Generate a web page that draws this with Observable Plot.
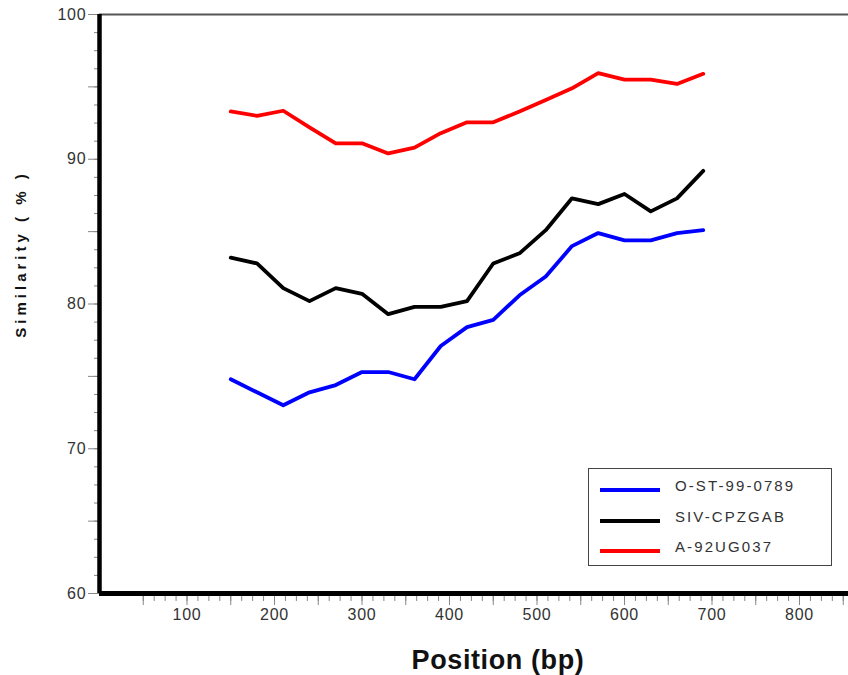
<!DOCTYPE html>
<html>
<head>
<meta charset="utf-8">
<script src="https://cdn.jsdelivr.net/npm/d3@7"></script>
<script src="https://cdn.jsdelivr.net/npm/@observablehq/plot@0.6"></script>
<style>
  html, body { margin: 0; padding: 0; background: #fff; }
  #wrap { position: relative; width: 848px; height: 675px; font-family: "Liberation Sans", Arial, sans-serif; }
  #wrap svg text { font-family: "Liberation Sans", Arial, sans-serif; }
  .ticklab text { letter-spacing: 0.8px; }
  .ytitle text { letter-spacing: 4px; }
  .xtitle text { letter-spacing: 0.6px; }
  #legend { position: absolute; left: 588px; top: 468px; width: 244px; height: 98px; border: 1.5px solid #444; box-sizing: border-box; background: #fff; }
  .item { position: absolute; left: 0; height: 20px; width: 240px; }
  .swatch { position: absolute; left: 11px; width: 60px; height: 4px; }
  .lab { position: absolute; left: 86px; font-size: 15px; color: #333; letter-spacing: 2.1px; white-space: nowrap; }
</style>
</head>
<body>
<div id="wrap"></div>
<script>
// ---- data ----
const positions = [150, 180, 210, 240, 270, 300, 330, 360, 390, 420, 450, 480, 510, 540, 570, 600, 630, 660, 690];
const seriesNames = ["O-ST-99-0789", "SIV-CPZGAB", "A-92UG037"];
const seriesColors = ["#0000ff", "#000000", "#ff0000"];
const ost990789 = [74.8, 73.9, 73.0, 73.9, 74.4, 75.3, 75.3, 74.8, 77.1, 78.4, 78.9, 80.6, 81.9, 84.0, 84.9, 84.4, 84.4, 84.9, 85.1];
const sivCpzgab = [83.2, 82.8, 81.1, 80.2, 81.1, 80.7, 79.3, 79.8, 79.8, 80.2, 82.8, 83.5, 85.1, 87.3, 86.9, 87.6, 86.4, 87.3, 89.2];
const a92ug037 = [93.3, 93.0, 93.35, 92.2, 91.1, 91.1, 90.4, 90.8, 91.8, 92.55, 92.55, 93.3, 94.1, 94.9, 95.95, 95.5, 95.5, 95.2, 95.9];
const seriesValues = [ost990789, sivCpzgab, a92ug037];
const xTickLabels = [100, 200, 300, 400, 500, 600, 700, 800];
const xMidTicks = [50, 150, 250, 350, 450, 550, 650, 750, 850];
const yTickLabels = [60, 70, 80, 90, 100];
const yMidTicks = [65, 75, 85, 95];
const xTitle = "Position (bp)";
const yTitle = "Similarity ( % )";

const xMinorTicks = d3.range(50, 856, 12.5);
const yMinorTicks = d3.range(60, 100.01, 1.25);

const lineMarks = seriesValues.map((vals, k) =>
  Plot.line(positions.map((p, i) => ({pos: p, sim: vals[i]})), {
    x: "pos", y: "sim", stroke: seriesColors[k], strokeWidth: 3.8
  })
);

const chart = Plot.plot({
  width: 848,
  height: 675,
  marginLeft: 99,
  marginRight: 0,
  marginTop: 14,
  marginBottom: 82,
  style: {background: "#fff", overflow: "visible"},
  x: {domain: [0, 856]},
  y: {domain: [60, 100]},
  marks: [
    Plot.axisX(xMinorTicks, {anchor: "bottom", tickSize: 8, stroke: "#888", tickFormat: () => "", label: null}),
    Plot.axisX(xMidTicks, {anchor: "bottom", tickSize: 12, stroke: "#888", tickFormat: () => "", label: null}),
    Plot.axisX(xTickLabels, {anchor: "bottom", tickSize: 12, tickPadding: 3, stroke: "#888", fill: "#333", fontSize: 16, tickFormat: d => String(d), label: null, className: "ticklab"}),
    Plot.axisY(yMinorTicks, {anchor: "left", tickSize: 5, stroke: "#888", tickFormat: () => "", label: null}),
    Plot.axisY(yMidTicks, {anchor: "left", tickSize: 11, stroke: "#888", tickFormat: () => "", label: null}),
    Plot.axisY(yTickLabels, {anchor: "left", tickSize: 11, tickPadding: 2, stroke: "#888", fill: "#333", fontSize: 16, tickFormat: d => String(d), label: null, className: "ticklab"}),
    Plot.ruleY([100], {stroke: "#555", strokeWidth: 2}),
    Plot.ruleX([0], {stroke: "#000", strokeWidth: 4.5}),
    Plot.ruleY([60], {stroke: "#000", strokeWidth: 5}),
    ...lineMarks,
    Plot.text([xTitle], {frameAnchor: "bottom", dx: 24, dy: 67, fontSize: 27, fontWeight: "bold", fill: "#111", lineAnchor: "middle", className: "xtitle"}),
    Plot.text([yTitle], {frameAnchor: "left", textAnchor: "middle", rotate: -90, dx: -78, dy: -50, fontSize: 15, fontWeight: "bold", fill: "#111", lineAnchor: "middle", className: "ytitle"})
  ]
});

const wrap = document.getElementById("wrap");
wrap.appendChild(chart);

// legend
const legend = document.createElement("div");
legend.id = "legend";
const rowTops = [12, 43, 73];
seriesNames.forEach((name, k) => {
  const item = document.createElement("div");
  item.className = "item";
  item.style.top = rowTops[k] + "px";
  const sw = document.createElement("div");
  sw.className = "swatch";
  sw.style.background = seriesColors[k];
  sw.style.top = "7px";
  const lab = document.createElement("div");
  lab.className = "lab";
  lab.style.top = "-4px";
  lab.textContent = name;
  item.appendChild(sw);
  item.appendChild(lab);
  legend.appendChild(item);
});
wrap.appendChild(legend);
</script>
</body>
</html>
